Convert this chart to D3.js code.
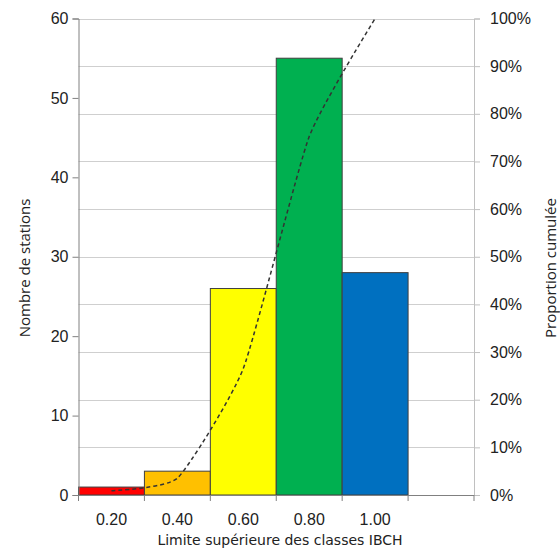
<!DOCTYPE html>
<html><head><meta charset="utf-8">
<script src="https://cdn.jsdelivr.net/npm/d3@7"></script>
<style>body{margin:0;background:#fff}svg{display:block}</style>
</head><body>
<script>
const categories = ["0.20","0.40","0.60","0.80","1.00",""];
const counts = [1,3,26,55,28];
const barColors = ["#FF0000","#FFC000","#FFFF00","#00B050","#0070C0"];
const leftTicks = [0,10,20,30,40,50,60];
const rightTicks = [0,0.1,0.2,0.3,0.4,0.5,0.6,0.7,0.8,0.9,1.0];

const W=560,H=548;
const m={l:78.5,r:474,t:18.5,b:495};
const svg=d3.select("body").append("svg").attr("width",W).attr("height",H);
const x=d3.scaleBand().domain(categories).range([m.l,m.r]).padding(0);
const y=d3.scaleLinear().domain([0,60]).range([m.b,m.t]);
const y2=d3.scaleLinear().domain([0,1]).range([m.b,m.t]);

const total=d3.sum(counts);
let acc=0;
const cum=counts.map((c,i)=>{acc+=c;return {cat:categories[i],p:acc/total};});

// gridlines from right axis
svg.append("g").selectAll("line").data(rightTicks.slice(1)).join("line")
  .attr("x1",m.l).attr("x2",m.r).attr("y1",d=>Math.round(y2(d))+0.5).attr("y2",d=>Math.round(y2(d))+0.5)
  .attr("stroke","#cfcfcf").attr("stroke-width",1);

// bars
svg.append("g").selectAll("rect").data(counts).join("rect")
  .attr("x",(d,i)=>x(categories[i])).attr("width",x.bandwidth())
  .attr("y",d=>y(d)).attr("height",d=>y(0)-y(d))
  .attr("fill",(d,i)=>barColors[i]).attr("stroke","#404040").attr("stroke-width",1);

// cumulative line
const line=d3.line().x(d=>x(d.cat)+x.bandwidth()/2).y(d=>y2(d.p)).curve(d3.curveCardinal.tension(0.5));
svg.append("path").datum(cum).attr("d",line).attr("fill","none")
  .attr("stroke","#333").attr("stroke-width",1.5).attr("stroke-dasharray","4,3");

// left axis
const gl=svg.append("g").attr("transform",`translate(${m.l},0)`)
  .call(d3.axisLeft(y).tickValues(leftTicks).tickSize(6).tickPadding(4));
gl.select(".domain").attr("stroke","#808080");
gl.selectAll(".tick line").attr("stroke","#808080");
gl.selectAll("text").attr("font-family","Liberation Sans, Arial, sans-serif").attr("font-size",16).attr("fill","#222");

// right axis
const gr=svg.append("g").attr("transform",`translate(${m.r},0)`)
  .call(d3.axisRight(y2).tickValues(rightTicks).tickFormat(d3.format(".0%")).tickSize(6).tickPadding(10));
gr.select(".domain").attr("stroke","#c0c0c0");
gr.selectAll(".tick line").attr("stroke","#c0c0c0");
gr.selectAll("text").attr("font-family","Liberation Sans, Arial, sans-serif").attr("font-size",16).attr("fill","#222");

// bottom axis
const gb=svg.append("g").attr("transform",`translate(0,${m.b})`)
  .call(d3.axisBottom(x).tickSize(0).tickPadding(19));
gb.select(".domain").attr("stroke","#808080").attr("d",`M${m.l},0.5H${m.r}`);
gb.selectAll("text").attr("font-family","Liberation Sans, Arial, sans-serif").attr("font-size",16).attr("fill","#222");
const bounds=categories.map(c=>x(c)).concat([m.r]);
svg.append("g").selectAll("line").data(bounds).join("line")
  .attr("x1",d=>d).attr("x2",d=>d).attr("y1",m.b).attr("y2",m.b+6).attr("stroke","#808080");

// titles
svg.append("text").attr("transform","translate(30,268) rotate(-90)").attr("text-anchor","middle")
  .attr("font-family","Open Sans, sans-serif").attr("font-size",15).attr("fill","#222").text("Nombre de stations");
svg.append("text").attr("transform","translate(556,268) rotate(-90)").attr("text-anchor","middle")
  .attr("font-family","Open Sans, sans-serif").attr("font-size",15).attr("fill","#222").text("Proportion cumulée");
svg.append("text").attr("x",280).attr("y",545).attr("text-anchor","middle")
  .attr("font-family","DejaVu Sans, Verdana, sans-serif").attr("font-size",14).attr("fill","#222").text("Limite supérieure des classes IBCH");
</script>
</body></html>
